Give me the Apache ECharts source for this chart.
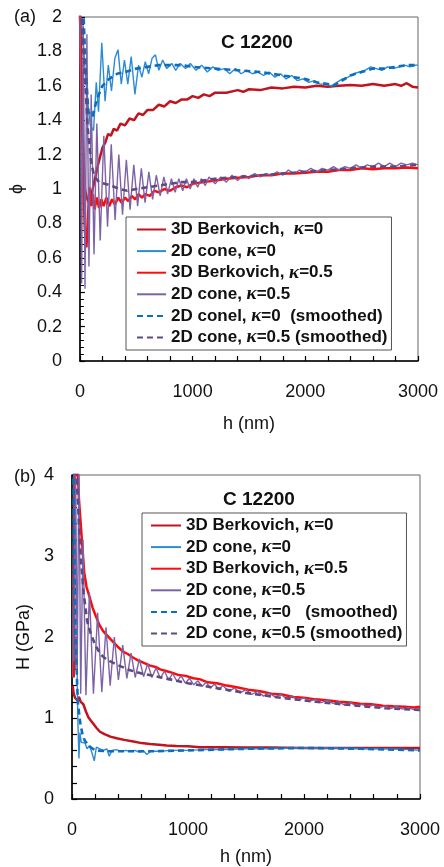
<!DOCTYPE html>
<html><head><meta charset="utf-8">
<script src="https://cdn.jsdelivr.net/npm/echarts@6/dist/echarts.min.js"></script>
<style>html,body{margin:0;padding:0;background:#fff}#c{width:444px;height:867px}</style>
</head><body><div id="c"></div>
<script>
// ---------- Panel (a): phi vs h ----------
const xTicks = ['0','1000','2000','3000'];
const yTicksA = ['0','0.2','0.4','0.6','0.8','1','1.2','1.4','1.6','1.8','2'];
const yTicksB = ['0','1','2','3','4'];

const aBerk0 = [[0,2.05],[15,1.6],[30,1.2],[45,1.0],[60,0.95],[80,0.92],[100,0.96],[120,1.02],[140,1.08],[160,1.14],[180,1.19],[200,1.24],[225,1.27],[250,1.32],[275,1.31],[300,1.35],[330,1.34],[360,1.38],[400,1.37],[440,1.41],[480,1.40],[520,1.44],[560,1.43],[600,1.46],[650,1.46],[700,1.49],[750,1.48],[800,1.51],[850,1.50],[900,1.52],[950,1.52],[1000,1.54],[1050,1.53],[1100,1.55],[1150,1.54],[1200,1.56],[1300,1.56],[1400,1.575],[1450,1.565],[1500,1.58],[1600,1.575],[1700,1.59],[1800,1.585],[1900,1.595],[2000,1.59],[2100,1.60],[2200,1.595],[2300,1.60],[2400,1.605],[2500,1.60],[2600,1.61],[2700,1.60],[2800,1.61],[2850,1.60],[2900,1.615],[2950,1.595],[3000,1.59]];

const aCone0 = [[0,2.05],[25,1.9],[45,1.7],[70,1.5],[92,1.37],[121,1.34],[145,1.62],[165,1.45],[194,1.85],[223,1.51],[252,1.72],[280,1.57],[310,1.76],[338,1.81],[367,1.61],[395,1.75],[425,1.61],[455,1.77],[488,1.55],[520,1.72],[550,1.65],[580,1.74],[610,1.67],[640,1.76],[670,1.78],[700,1.69],[735,1.75],[770,1.70],[815,1.73],[850,1.69],[890,1.73],[937,1.70],[980,1.73],[1030,1.69],[1080,1.72],[1130,1.68],[1180,1.71],[1225,1.69],[1280,1.70],[1330,1.67],[1380,1.70],[1430,1.67],[1480,1.69],[1530,1.67],[1580,1.68],[1630,1.66],[1680,1.68],[1730,1.65],[1780,1.67],[1830,1.64],[1880,1.66],[1930,1.63],[1980,1.64],[2030,1.62],[2080,1.63],[2130,1.61],[2180,1.61],[2230,1.60],[2280,1.62],[2330,1.64],[2380,1.65],[2430,1.67],[2480,1.68],[2530,1.69],[2580,1.71],[2630,1.70],[2680,1.69],[2730,1.71],[2780,1.70],[2830,1.71],[2880,1.72],[2930,1.71],[2980,1.72],[3000,1.72]];

const aBerk05 = [[0,2.05],[15,1.5],[30,1.0],[45,0.75],[58,0.66],[72,0.85],[85,1.01],[100,0.90],[115,0.97],[130,0.88],[150,0.95],[170,0.89],[190,0.94],[210,0.90],[235,0.95],[260,0.90],[285,0.94],[310,0.91],[340,0.95],[370,0.92],[400,0.95],[430,0.93],[460,0.96],[490,0.94],[520,0.97],[550,0.95],[580,0.97],[620,0.96],[660,0.99],[700,0.98],[750,1.00],[800,0.99],[850,1.01],[900,1.02],[950,1.01],[1000,1.03],[1100,1.04],[1200,1.05],[1300,1.06],[1400,1.065],[1500,1.07],[1600,1.08],[1700,1.08],[1800,1.09],[1900,1.09],[2000,1.095],[2100,1.10],[2200,1.10],[2300,1.11],[2400,1.11],[2500,1.12],[2600,1.115],[2700,1.12],[2800,1.12],[2900,1.125],[3000,1.12]];

const aCone05 = [[0,2.05],[15,0.45],[30,1.95],[45,0.42],[62,1.9],[80,0.55],[100,1.55],[125,0.62],[150,1.38],[180,0.70],[212,1.31],[245,0.78],[278,1.26],[312,0.82],[345,1.20],[378,0.85],[412,1.17],[445,0.88],[478,1.14],[512,0.90],[545,1.12],[578,0.92],[612,1.10],[645,0.94],[678,1.08],[712,0.96],[745,1.07],[778,0.97],[812,1.06],[845,0.98],[878,1.06],[912,0.99],[945,1.06],[978,1.00],[1012,1.06],[1045,1.01],[1078,1.06],[1112,1.02],[1145,1.07],[1200,1.03],[1250,1.07],[1300,1.04],[1350,1.08],[1400,1.05],[1450,1.08],[1500,1.06],[1550,1.09],[1600,1.07],[1650,1.09],[1700,1.08],[1750,1.10],[1800,1.08],[1850,1.11],[1900,1.09],[1950,1.11],[2000,1.10],[2050,1.12],[2100,1.10],[2150,1.12],[2200,1.11],[2250,1.13],[2300,1.11],[2350,1.13],[2400,1.12],[2450,1.14],[2500,1.12],[2550,1.14],[2600,1.13],[2650,1.15],[2700,1.13],[2750,1.15],[2800,1.13],[2850,1.15],[2900,1.14],[2950,1.15],[3000,1.14]];

const aCone0s = [[30,2.05],[50,1.7],[75,1.45],[110,1.42],[150,1.52],[200,1.60],[260,1.64],[330,1.67],[400,1.68],[500,1.70],[600,1.71],[700,1.72],[800,1.72],[900,1.72],[1000,1.71],[1200,1.70],[1400,1.69],[1600,1.68],[1800,1.66],[2000,1.64],[2100,1.62],[2200,1.61],[2250,1.60],[2300,1.62],[2400,1.66],[2500,1.68],[2600,1.70],[2700,1.70],[2800,1.71],[2900,1.72],[3000,1.72]];

const aCone05s = [[10,2.05],[40,1.7],[70,1.35],[100,1.15],[130,1.07],[170,1.04],[220,1.03],[280,1.02],[350,1.00],[420,0.99],[500,1.00],[600,1.01],[700,1.02],[800,1.03],[900,1.04],[1000,1.04],[1200,1.06],[1400,1.07],[1600,1.08],[1800,1.09],[2000,1.10],[2200,1.11],[2400,1.12],[2600,1.13],[2800,1.13],[3000,1.14]];

// ---------- Panel (b): H vs h ----------
const bBerk0 = [[5,1.4],[15,1.3],[26,1.25],[45,1.22],[60,1.26],[75,1.2],[98,1.17],[120,1.08],[141,1.01],[162,0.97],[184,0.93],[210,0.88],[241,0.83],[280,0.80],[330,0.77],[385,0.75],[450,0.73],[529,0.71],[600,0.69],[672,0.68],[750,0.67],[816,0.66],[900,0.655],[1000,0.65],[1103,0.64],[1300,0.64],[1500,0.635],[1700,0.635],[2000,0.63],[2300,0.63],[2600,0.63],[2800,0.63],[3000,0.63]];

const bCone0 = [[5,1.5],[15,4.2],[28,1.6],[40,2.0],[50,1.0],[60,0.5],[68,0.82],[80,0.70],[95,0.68],[112,0.69],[130,0.62],[150,0.66],[170,0.58],[192,0.47],[210,0.64],[240,0.62],[270,0.60],[300,0.62],[320,0.53],[345,0.60],[380,0.61],[420,0.59],[460,0.60],[500,0.59],[540,0.60],[580,0.58],[620,0.59],[645,0.55],[680,0.59],[750,0.59],[850,0.60],[1000,0.60],[1150,0.61],[1300,0.61],[1500,0.62],[1700,0.62],[1900,0.63],[2100,0.63],[2300,0.63],[2500,0.62],[2700,0.62],[2900,0.61],[3000,0.60]];

const bBerk05 = [[15,1.5],[25,4.2],[45,4.2],[60,3.7],[75,3.4],[90,3.1],[105,2.8],[125,2.62],[150,2.5],[178,2.36],[205,2.26],[236,2.15],[270,2.07],[322,1.99],[360,1.93],[394,1.88],[440,1.82],[480,1.79],[523,1.75],[570,1.71],[620,1.68],[667,1.65],[720,1.63],[760,1.60],[810,1.58],[860,1.56],[920,1.53],[980,1.52],[1045,1.49],[1100,1.48],[1170,1.44],[1250,1.43],[1333,1.40],[1420,1.38],[1520,1.35],[1621,1.33],[1720,1.30],[1810,1.29],[1908,1.26],[2000,1.25],[2100,1.23],[2195,1.22],[2300,1.20],[2400,1.19],[2483,1.175],[2580,1.17],[2680,1.15],[2770,1.145],[2870,1.14],[2950,1.13],[3000,1.14]];

const bCone05 = [[15,1.7],[30,4.2],[45,1.6],[60,4.2],[75,1.3],[95,3.2],[120,1.28],[150,2.55],[185,1.30],[221,2.3],[257,1.32],[293,2.12],[329,1.40],[365,2.0],[400,1.47],[437,1.9],[473,1.49],[509,1.8],[545,1.50],[581,1.73],[617,1.51],[653,1.67],[689,1.50],[725,1.62],[761,1.49],[797,1.58],[833,1.47],[869,1.55],[905,1.45],[941,1.52],[977,1.43],[1013,1.49],[1049,1.41],[1085,1.46],[1121,1.39],[1157,1.44],[1193,1.37],[1229,1.42],[1265,1.35],[1300,1.40],[1350,1.33],[1400,1.37],[1450,1.31],[1500,1.35],[1550,1.29],[1600,1.33],[1650,1.27],[1700,1.31],[1750,1.26],[1800,1.29],[1850,1.24],[1900,1.27],[1950,1.22],[2000,1.25],[2050,1.21],[2100,1.23],[2150,1.19],[2200,1.22],[2250,1.18],[2300,1.20],[2350,1.16],[2400,1.19],[2450,1.15],[2500,1.17],[2550,1.14],[2600,1.16],[2650,1.13],[2700,1.15],[2750,1.12],[2800,1.14],[2850,1.11],[2900,1.13],[2950,1.10],[3000,1.11]];

const bCone0s = [[10,4.2],[30,2.0],[50,1.2],[70,0.95],[90,0.80],[110,0.72],[150,0.65],[200,0.60],[300,0.59],[500,0.59],[700,0.59],[1000,0.60],[1500,0.62],[2000,0.63],[2500,0.62],[3000,0.60]];

const bCone05s = [[20,4.2],[40,4.0],[60,3.4],[80,2.9],[100,2.55],[130,2.2],[160,2.05],[200,1.9],[250,1.78],[300,1.72],[400,1.65],[500,1.59],[600,1.55],[800,1.49],[1000,1.43],[1200,1.38],[1500,1.31],[1800,1.25],[2100,1.20],[2400,1.16],[2700,1.12],[3000,1.10]];

const legendA = ['3D Berkovich,  {k|κ}=0','2D cone, {k|κ}=0','3D Berkovich, {k|κ}=0.5','2D cone, {k|κ}=0.5','2D conel, {k|κ}=0  (smoothed)','2D cone, {k|κ}=0.5 (smoothed)'];
const legendB = ['3D Berkovich, {k|κ}=0','2D cone, {k|κ}=0','3D Berkovich, {k|κ}=0.5','2D cone, {k|κ}=0.5','2D cone, {k|κ}=0   (smoothed)','2D cone, {k|κ}=0.5 (smoothed)'];

const FONT = "'Liberation Sans', Arial, sans-serif";
const styles = [
  {color:'#C0141E', width:2.5, type:'solid'},
  {color:'#2E8BD3', width:1.4, type:'solid'},
  {color:'#FF0A0A', width:2.5, type:'solid'},
  {color:'#7E62A6', width:1.4, type:'solid'},
  {color:'#0A6FC0', width:2.6, type:[6,4]},
  {color:'#5E4A80', width:2.6, type:[6,4]}
];
const dataA = [aBerk0, aCone0, aBerk05, aCone05, aCone0s, aCone05s];
const dataB = [bBerk0, bCone0, bBerk05, bCone05, bCone0s, bCone05s];

const nameMap = {};
const series = [];
dataA.forEach((d,i)=>{ const n='a'+i; nameMap[n]=legendA[i];
  series.push({name:n,type:'line',xAxisIndex:0,yAxisIndex:0,data:d,symbol:'none',lineStyle:styles[i],itemStyle:{color:styles[i].color},z:2+i,clip:true,animation:false});});
dataB.forEach((d,i)=>{ const n='b'+i; nameMap[n]=legendB[i];
  series.push({name:n,type:'line',xAxisIndex:1,yAxisIndex:1,data:d,symbol:'none',lineStyle:styles[i],itemStyle:{color:styles[i].color},z:2+i,clip:true,animation:false});});

function xAxis(gi){ return {type:'value',gridIndex:gi,min:0,max:3000,interval:1000,
  name:'h (nm)',nameLocation:'middle',nameGap:gi===0?54:49,
  nameTextStyle:{fontFamily:FONT,fontSize:18,color:'#111'},
  axisLine:{show:true,onZero:false,lineStyle:{color:'#000',width:1.6}},
  axisTick:{show:true,inside:true,length:5,lineStyle:{color:'#000',width:1.2}},
  minorTick:{show:true,splitNumber:5,length:5,lineStyle:{color:'#000',width:1.2}},
  splitLine:{show:false},
  axisLabel:{fontFamily:FONT,fontSize:18,color:'#111',margin:22,formatter:v=>xTicks[Math.round(v/1000)]}}; }

const legendText = {fontFamily:FONT,fontSize:17,fontWeight:'bold',color:'#111',
  rich:{k:{fontFamily:"'Liberation Serif', serif",fontStyle:'italic',fontSize:19,fontWeight:'bold',color:'#111'}}};

const option = {
  animation:false,
  backgroundColor:'#fff',
  grid:[
    {left:72,top:17,width:346,height:344,show:true,borderColor:'#666',borderWidth:1},
    {left:72,top:475,width:348,height:329,show:true,borderColor:'#666',borderWidth:1}
  ],
  xAxis:[xAxis(0), xAxis(1)],
  yAxis:[
    {type:'value',gridIndex:0,min:0,max:2,interval:0.2,name:'ϕ',nameLocation:'middle',nameGap:46,nameRotate:90,
     nameTextStyle:{fontFamily:FONT,fontSize:18,color:'#111'},
     axisLine:{show:true,onZero:false,lineStyle:{color:'#000',width:1.6}},
     axisTick:{show:true,inside:true,length:5,lineStyle:{color:'#000',width:1.2}},
     minorTick:{show:true,splitNumber:5,length:4,lineStyle:{color:'#000',width:1}},
     splitLine:{show:false},
     axisLabel:{fontFamily:FONT,fontSize:18,color:'#111',margin:18,formatter:v=>yTicksA[Math.round(v/0.2)]}},
    {type:'value',gridIndex:1,min:0,max:4,interval:1,name:'H (GPa)',nameLocation:'middle',nameGap:38,nameRotate:90,
     nameTextStyle:{fontFamily:FONT,fontSize:18,color:'#111'},
     axisLine:{show:true,onZero:false,lineStyle:{color:'#000',width:1.6}},
     axisTick:{show:true,inside:true,length:5,lineStyle:{color:'#000',width:1.2}},
     minorTick:{show:true,splitNumber:5,length:5,lineStyle:{color:'#000',width:1.2}},
     splitLine:{show:false},
     axisLabel:{fontFamily:FONT,fontSize:18,color:'#111',margin:18,formatter:v=>yTicksB[Math.round(v)]}}
  ],
  legend:[
    {data:['a0','a1','a2','a3','a4','a5'],orient:'vertical',left:126,top:217,
     padding:[3,4,3,10],itemWidth:29,itemHeight:14,itemGap:2.6,
     itemStyle:{opacity:0},
     backgroundColor:'#fff',borderColor:'#555',borderWidth:1,selectedMode:false,
     formatter:n=>nameMap[n],textStyle:legendText},
    {data:['b0','b1','b2','b3','b4','b5'],orient:'vertical',left:142,top:513,
     padding:[3,4,3,8],itemWidth:30,itemHeight:14,itemGap:2.6,
     itemStyle:{opacity:0},
     backgroundColor:'#fff',borderColor:'#555',borderWidth:1,selectedMode:false,
     formatter:n=>nameMap[n],textStyle:legendText}
  ],
  graphic:[
    {type:'text',left:258-37,top:33,style:{text:'C 12200',fontFamily:FONT,fontSize:19,fontWeight:'bold',fill:'#111'}},
    {type:'text',left:260-37,top:490,style:{text:'C 12200',fontFamily:FONT,fontSize:19,fontWeight:'bold',fill:'#111'}},
    {type:'text',left:14,top:8,style:{text:'(a)',fontFamily:FONT,fontSize:18,fill:'#111'}},
    {type:'text',left:14,top:468,style:{text:'(b)',fontFamily:FONT,fontSize:18,fill:'#111'}}
  ],
  series:series
};
const chart = echarts.init(document.getElementById('c'),null,{renderer:'canvas'});
chart.setOption(option);
</script></body></html>
